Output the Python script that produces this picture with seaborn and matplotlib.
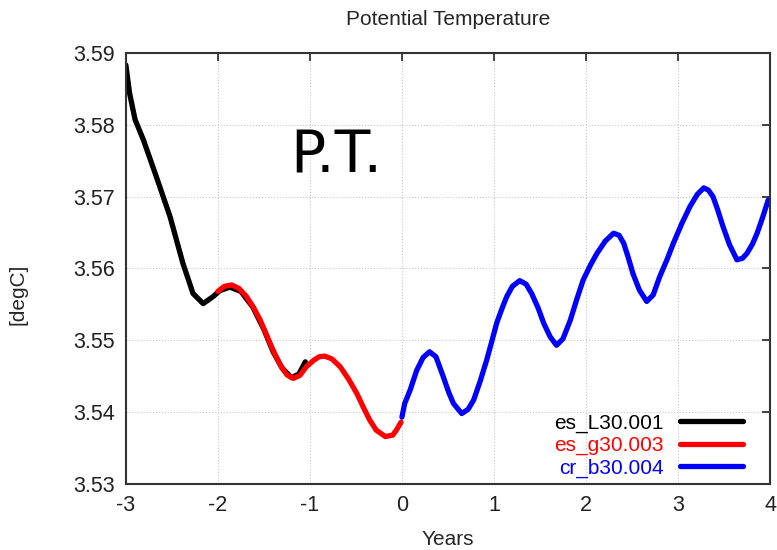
import pandas as pd
import seaborn as sns
import matplotlib.pyplot as plt

# runs
run_names = ['es_L30.001', 'es_g30.003', 'cr_b30.004']
run_colors = ['black', 'red', 'blue']

black_x = [-3.00, -2.96, -2.90, -2.81, -2.67, -2.52, -2.38, -2.27, -2.16, -2.05,
           -1.98, -1.87, -1.75, -1.62, -1.50, -1.40, -1.30, -1.20, -1.12, -1.05]
black_y = [3.5883, 3.5844, 3.5807, 3.5779, 3.5728, 3.5672, 3.5607, 3.5565, 3.5551, 3.5561,
           3.5569, 3.5574, 3.5568, 3.5546, 3.5515, 3.5484, 3.5461, 3.5448, 3.5453, 3.5470]

red_x = [-2.00, -1.93, -1.85, -1.77, -1.69, -1.61, -1.54, -1.47, -1.40, -1.32,
         -1.25, -1.18, -1.11, -1.04, -0.96, -0.90, -0.84, -0.76, -0.67, -0.58,
         -0.49, -0.42, -0.35, -0.28, -0.18, -0.10, -0.06, -0.01]
red_y = [3.5568, 3.5575, 3.5577, 3.5572, 3.5561, 3.5545, 3.5528, 3.5507, 3.5486, 3.5465,
         3.5452, 3.5447, 3.5451, 3.5463, 3.5472, 3.5477, 3.5478, 3.5474, 3.5463, 3.5446,
         3.5426, 3.5407, 3.5389, 3.5375, 3.5366, 3.5368, 3.5375, 3.5386]

blue_x = [0.00, 0.03, 0.09, 0.16, 0.23, 0.30, 0.37, 0.45, 0.51, 0.56, 0.65,
          0.72, 0.78, 0.85, 0.92, 0.98, 1.03, 1.09, 1.14, 1.20, 1.28,
          1.35, 1.41, 1.48, 1.54, 1.61, 1.68, 1.75, 1.83, 1.90, 1.97,
          2.05, 2.12, 2.21, 2.30, 2.36, 2.41, 2.46, 2.51, 2.58, 2.66,
          2.73, 2.80, 2.88, 2.95, 3.04, 3.13, 3.21, 3.28, 3.33, 3.38,
          3.43, 3.49, 3.56, 3.64, 3.70, 3.75, 3.81, 3.86, 3.92, 3.98]
blue_y = [3.5393, 3.5412, 3.5431, 3.5458, 3.5476, 3.5484, 3.5477, 3.5449, 3.5427, 3.5412, 3.5398,
          3.5404, 3.5417, 3.5443, 3.5472, 3.5500, 3.5524, 3.5545, 3.5561, 3.5575, 3.5583,
          3.5578, 3.5565, 3.5545, 3.5524, 3.5505, 3.5493, 3.5502, 3.5528, 3.5557, 3.5584,
          3.5605, 3.5621, 3.5638, 3.5649, 3.5646, 3.5635, 3.5615, 3.5593, 3.5570, 3.5554,
          3.5563, 3.5588, 3.5612, 3.5635, 3.5662, 3.5686, 3.5703, 3.5712, 3.5709, 3.5700,
          3.5682, 3.5658, 3.5633, 3.5612, 3.5614, 3.5621, 3.5634, 3.5649, 3.5671, 3.5695]

x_ticks = [-3, -2, -1, 0, 1, 2, 3, 4]
y_ticks = [3.53, 3.54, 3.55, 3.56, 3.57, 3.58, 3.59]

df = pd.concat([
    pd.DataFrame({'Years': black_x, 'T': black_y, 'run': run_names[0]}),
    pd.DataFrame({'Years': red_x, 'T': red_y, 'run': run_names[1]}),
    pd.DataFrame({'Years': blue_x, 'T': blue_y, 'run': run_names[2]}),
])

sns.set_style('white')
plt.rcParams['font.family'] = ['Liberation Sans', 'DejaVu Sans']

fig, ax = plt.subplots(figsize=(7.77, 5.5), dpi=100)
fig.subplots_adjust(left=0.162, right=0.991, top=0.904, bottom=0.12)

sns.lineplot(data=df, x='Years', y='T', hue='run', hue_order=run_names,
             palette=run_colors, linewidth=3.8, sort=False, ax=ax)

ax.set_xlim(-3, 4)
ax.set_ylim(3.53, 3.59)
ax.set_xticks(x_ticks)
ax.set_yticks(y_ticks)
ax.set_xticklabels([str(t) for t in x_ticks])
ax.set_yticklabels(['%.2f' % t for t in y_ticks])
ax.tick_params(direction='in', length=6, width=1.2, top=True, right=True,
               labelsize=15.5, colors='#222222', pad=8)
ax.grid(True, linestyle=':', color='#c8c8c8', linewidth=0.8)
for s in ax.spines.values():
    s.set_color('#333333')
    s.set_linewidth(1.5)

ax.set_title('Potential Temperature', fontsize=15, pad=20)
ax.set_xlabel('Years', fontsize=15, labelpad=10)
ax.set_ylabel('[degC]', fontsize=15)
ax.yaxis.set_label_coords(-0.153, 0.44)

ax.text(0.255, 0.724, 'P.T.', transform=ax.transAxes, fontsize=42,
        family='DejaVu Sans', color='black', ha='left', va='baseline')

handles, labels = ax.get_legend_handles_labels()
leg = ax.legend(handles, labels, loc='lower right', bbox_to_anchor=(0.958, 0.015),
                frameon=False, markerfirst=False, fontsize=15, labelspacing=0.15,
                handlelength=3.0, handletextpad=0.8, borderpad=0, borderaxespad=0)
for txt, c in zip(leg.get_texts(), run_colors):
    txt.set_color(c)

fig.savefig('out.png', dpi=100)
